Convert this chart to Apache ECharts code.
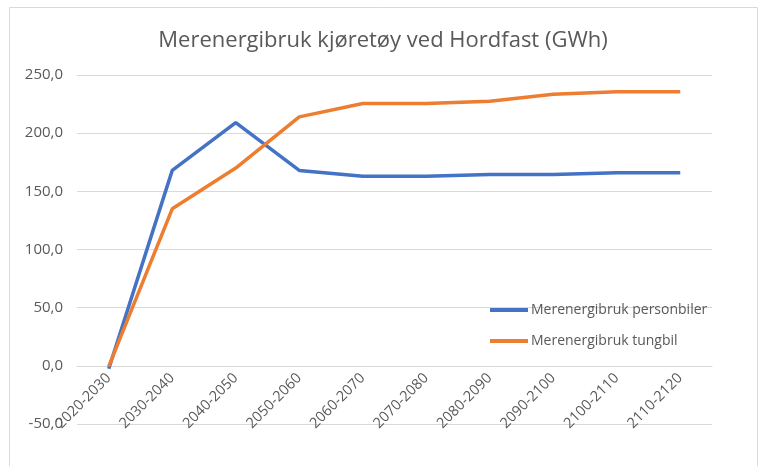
<!DOCTYPE html>
<html>
<head>
<meta charset="utf-8">
<script src="https://cdn.jsdelivr.net/npm/echarts@6/dist/echarts.min.js"></script>
<style>
  html, body { margin: 0; padding: 0; background: #fff; }
  #chart { width: 766px; height: 466px; }
</style>
</head>
<body>
<div id="chart"></div>
<script>
// periods on the x axis
let periods = ['2020-2030', '2030-2040', '2040-2050', '2050-2060', '2060-2070',
    '2070-2080', '2080-2090', '2090-2100', '2100-2110', '2110-2120'];

// merenergibruk (GWh)
let personbiler = [-2.5, 168, 209, 168, 163, 163, 164.5, 164.5, 166, 166];
let tungbil = [-0.5, 135, 170, 214, 225.5, 225.5, 227.5, 233.5, 235.5, 235.5];

let y_ticks = [-50, 0, 50, 100, 150, 200, 250];

let chart = echarts.init(document.getElementById('chart'));

let font = '"Open Sans", "Noto Sans", sans-serif';
let grey = '#595959';

// grid box: 250 at y=75, -50 at y=424
let grid_top = 75;
let grid_bottom = 42;
let plot_h = 466 - grid_top - grid_bottom;
// move the category axis (with its labels) up to the zero line
let zero_offset = -plot_h * (0 - y_ticks[0]) / (y_ticks[y_ticks.length - 1] - y_ticks[0]);

let option = {
    animation: false,
    textStyle: {fontFamily: font},
    title: {
        text: 'Merenergibruk kjøretøy ved Hordfast (GWh)',
        left: 'center',
        top: 25,
        textStyle: {fontFamily: font, fontSize: 22, fontWeight: 'normal', color: grey}
    },
    graphic: [
        {
            type: 'rect',
            shape: {x: 9.5, y: 7.5, width: 748, height: 470},
            style: {fill: 'none', stroke: '#d9d9d9', lineWidth: 1}
        }
    ],
    grid: {left: 77, right: 54, top: grid_top, bottom: grid_bottom, containLabel: false, outerBoundsMode: 'none'},
    legend: {
        orient: 'vertical',
        left: 485,
        top: 298,
        icon: 'rect',
        itemWidth: 38,
        itemHeight: 4,
        itemGap: 17,
        textStyle: {fontFamily: font, fontSize: 14, color: grey, padding: [0, 0, 0, -2]},
        data: ['Merenergibruk personbiler', 'Merenergibruk tungbil']
    },
    xAxis: {
        type: 'category',
        data: periods,
        boundaryGap: true,
        offset: zero_offset,
        axisLine: {onZero: false, lineStyle: {color: '#d9d9d9'}},
        axisTick: {show: false},
        axisLabel: {rotate: 45, interval: 0, fontSize: 14.5, color: grey, margin: 10, fontFamily: font}
    },
    yAxis: {
        type: 'value',
        min: y_ticks[0],
        max: y_ticks[y_ticks.length - 1],
        interval: 50,
        axisLine: {show: false},
        axisTick: {show: false},
        splitLine: {lineStyle: {color: '#d9d9d9'}},
        axisLabel: {
            fontSize: 15, color: grey, margin: 14, fontFamily: font,
            formatter: v => v.toFixed(1).replace('.', ',')
        }
    },
    series: [
        {
            name: 'Merenergibruk personbiler',
            type: 'line',
            data: personbiler,
            showSymbol: false,
            color: '#4472C4',
            lineStyle: {width: 3.5, color: '#4472C4'}
        },
        {
            name: 'Merenergibruk tungbil',
            type: 'line',
            data: tungbil,
            showSymbol: false,
            color: '#ED7D31',
            lineStyle: {width: 3.5, color: '#ED7D31'}
        }
    ]
};

chart.setOption(option);
</script>
</body>
</html>
